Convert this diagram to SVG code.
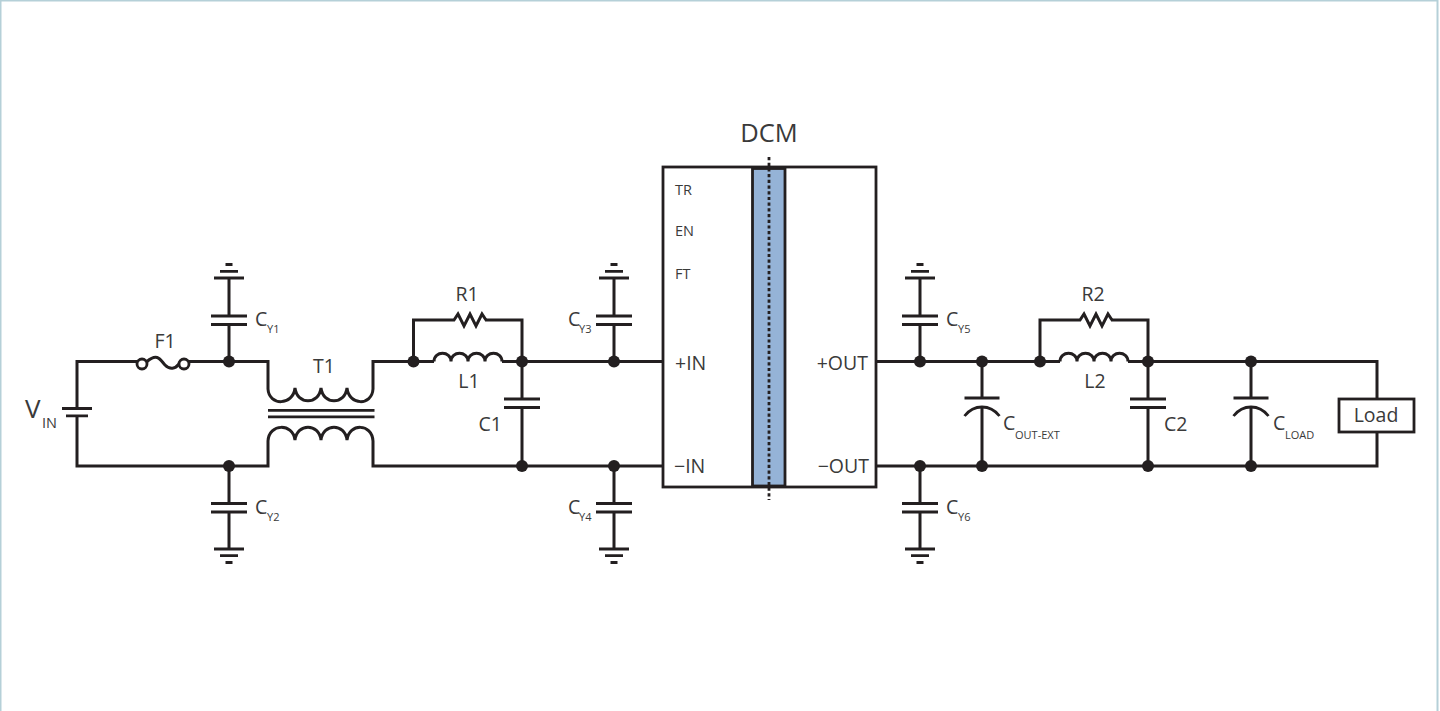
<svg xmlns="http://www.w3.org/2000/svg" width="1440" height="711" viewBox="0 0 1440 711">
<style>
.w{fill:none;stroke:#231f20;stroke-width:3;stroke-linejoin:miter}
.t{fill:none;stroke:#231f20;stroke-width:2.800}
.d{fill:#231f20}
text{font-family:"Open Sans","Noto Sans","Liberation Sans",sans-serif;fill:#3a3a3a}
.l{font-size:19.500px}.s{font-size:11px}.p{font-size:14.500px}.q{font-size:19.500px}
</style>
<defs>
<g id="capUp" class="t"><path d="M-18 0H18M-18 8.500H18"/></g>
<g id="gnd" class="t"><path d="M-15 0H15M-9 -6.700H9M-3.500 -13.500H3.500"/></g>
<path id="ind" class="w" d="M0 0C0 -11 17 -11 17 0C17 -11 34 -11 34 0C34 -11 51 -11 51 0C51 -11 68 -11 68 0"/>
<path id="res" class="w" d="M0 0H3L7 -6L13 6L19 -6L25 6L31 -6L35 0"/>
<path id="pol" class="t" d="M-17.500 17C-8 5 8 5 17.500 17"/>
</defs>
<rect x="0.500" y="0.500" width="1437" height="730" fill="#fff" stroke="#b5d0d8" stroke-width="2"/>
<g id="connectors">
<path class="w" d="M137 361.500H77V408M77 416V466H268V441M268 389V361.500H229"/>
<path class="w" d="M189 361.500H268M373 389V361.500H434M373 441V466H663M502 361.500H663M229 361.500V324M229 316V278M229 466V503M229 512V549"/>
<path class="w" d="M413.500 361.500V320H451M485 320H522V399M522 407V466"/>
<path class="w" d="M614 361.500V324M614 316V278M614 466V503M614 512V549"/>
<path class="w" d="M876 361.500H1060M1128 361.500H1377V399M876 466H1377V432"/>
<path class="w" d="M920 361.500V324M920 316V278M920 466V503M920 512V549"/>
<path class="w" d="M982 361.500V398M982 407V466M1040 361.500V320H1077M1111 320H1148V399M1148 407V466M1251 361.500V398M1251 407V466"/>
</g>
<g id="junctions" class="d">
<circle cx="229" cy="361.500" r="6"/><circle cx="229" cy="466" r="6"/><circle cx="413.500" cy="361.500" r="6"/><circle cx="522" cy="361.500" r="6"/><circle cx="522" cy="466" r="6"/><circle cx="614" cy="361.500" r="6"/><circle cx="614" cy="466" r="6"/><circle cx="920" cy="361.500" r="6"/><circle cx="920" cy="466" r="6"/><circle cx="982" cy="361.500" r="6"/><circle cx="982" cy="466" r="6"/><circle cx="1040" cy="361.500" r="6"/><circle cx="1148" cy="361.500" r="6"/><circle cx="1148" cy="466" r="6"/><circle cx="1251" cy="361.500" r="6"/><circle cx="1251" cy="466" r="6"/>
</g>
<g id="vin"><path class="t" d="M62 408.500H92M66 415.800H88"/><text x="25" y="418" font-size="26">V</text><text x="42" y="428" font-size="14.500">IN</text></g>
<g id="f1"><circle class="t" cx="142" cy="364" r="5" fill="#fff"/><circle class="t" cx="184" cy="364" r="5" fill="#fff"/><path class="w" d="M147 361.500C158 352 161 361 165 365C170 370 175 369 179 364"/><text class="l" x="165" y="348" text-anchor="middle">F1</text></g>
<g id="cy1"><use href="#capUp" x="229" y="316"/><use href="#gnd" x="229" y="278"/><text class="l" x="255" y="326">C</text><text class="s" x="267" y="333">Y1</text></g>
<g id="cy2"><use href="#capUp" x="229" y="503.500"/><use href="#gnd" transform="translate(229 549) scale(1 -1)"/><text class="l" x="255" y="514">C</text><text class="s" x="267" y="521">Y2</text></g>
<g id="t1"><path class="w" d="M268 389C269 406 293 406 295 388C297 405 319 405 321 388C323 405 345 405 347 388C349 406 372 406 373 389"/><path class="t" d="M268 410.300H374.500M268 416.800H374.500"/><path class="w" d="M268 441C269 423 293 423 295 440C297 423 319 423 321 440C323 423 345 423 347 440C349 423 372 423 373 441"/><text class="l" x="324" y="373" text-anchor="middle">T1</text></g>
<g id="r1"><use href="#res" x="451" y="320"/><text class="l" x="467" y="301" text-anchor="middle">R1</text></g>
<g id="l1"><use href="#ind" x="434" y="361.500"/><text class="l" x="469" y="388" text-anchor="middle">L1</text></g>
<g id="c1"><use href="#capUp" x="522" y="399"/><text class="l" x="502" y="431" text-anchor="end">C1</text></g>
<g id="cy3"><use href="#capUp" x="614" y="316"/><use href="#gnd" x="614" y="278"/><text class="l" x="568" y="326">C</text><text class="s" x="579" y="333">Y3</text></g>
<g id="cy4"><use href="#capUp" x="614" y="503.500"/><use href="#gnd" transform="translate(614 549) scale(1 -1)"/><text class="l" x="568" y="514">C</text><text class="s" x="579" y="521">Y4</text></g>
<g id="dcm">
<rect x="663" y="167" width="213" height="320" fill="#fff" stroke="#231f20" stroke-width="2.800"/>
<rect x="752.500" y="168.500" width="32.500" height="317.500" fill="#95b3d7" stroke="#231f20" stroke-width="2.800"/>
<path d="M769 157V500" fill="none" stroke="#231f20" stroke-width="2.800" stroke-dasharray="3.200 2.500"/>
<text x="769" y="142" font-size="25.500" text-anchor="middle">DCM</text>
<text class="p" x="675" y="195">TR</text><text class="p" x="675" y="236">EN</text><text class="p" x="675" y="279">FT</text>
<text class="q" x="675" y="370">+IN</text><text class="q" x="674" y="473">−IN</text>
<text class="q" x="868" y="370" text-anchor="end">+OUT</text><text class="q" x="869" y="473" text-anchor="end">−OUT</text>
</g>
<g id="cy5"><use href="#capUp" x="920" y="316"/><use href="#gnd" x="920" y="278"/><text class="l" x="946" y="326">C</text><text class="s" x="958" y="333">Y5</text></g>
<g id="cy6"><use href="#capUp" x="920" y="503.500"/><use href="#gnd" transform="translate(920 549) scale(1 -1)"/><text class="l" x="946" y="514">C</text><text class="s" x="958" y="521">Y6</text></g>
<g id="cout"><path class="t" d="M964.500 398H999.500"/><use href="#pol" x="982" y="399"/><text class="l" x="1003" y="430">C</text><text class="s" x="1015" y="439">OUT-EXT</text></g>
<g id="r2"><use href="#res" x="1077" y="320"/><text class="l" x="1093" y="301" text-anchor="middle">R2</text></g>
<g id="l2"><use href="#ind" x="1060" y="361.500"/><text class="l" x="1095" y="388" text-anchor="middle">L2</text></g>
<g id="c2"><use href="#capUp" x="1148" y="399"/><text class="l" x="1164" y="431">C2</text></g>
<g id="cload"><path class="t" d="M1233.500 398H1268.500"/><use href="#pol" x="1251" y="399"/><text class="l" x="1273" y="430">C</text><text class="s" x="1285" y="439">LOAD</text></g>
<g id="load"><rect x="1339" y="399" width="75" height="33" fill="#fff" stroke="#231f20" stroke-width="2.800"/><text class="l" x="1376" y="422" text-anchor="middle">Load</text></g>
</svg>
